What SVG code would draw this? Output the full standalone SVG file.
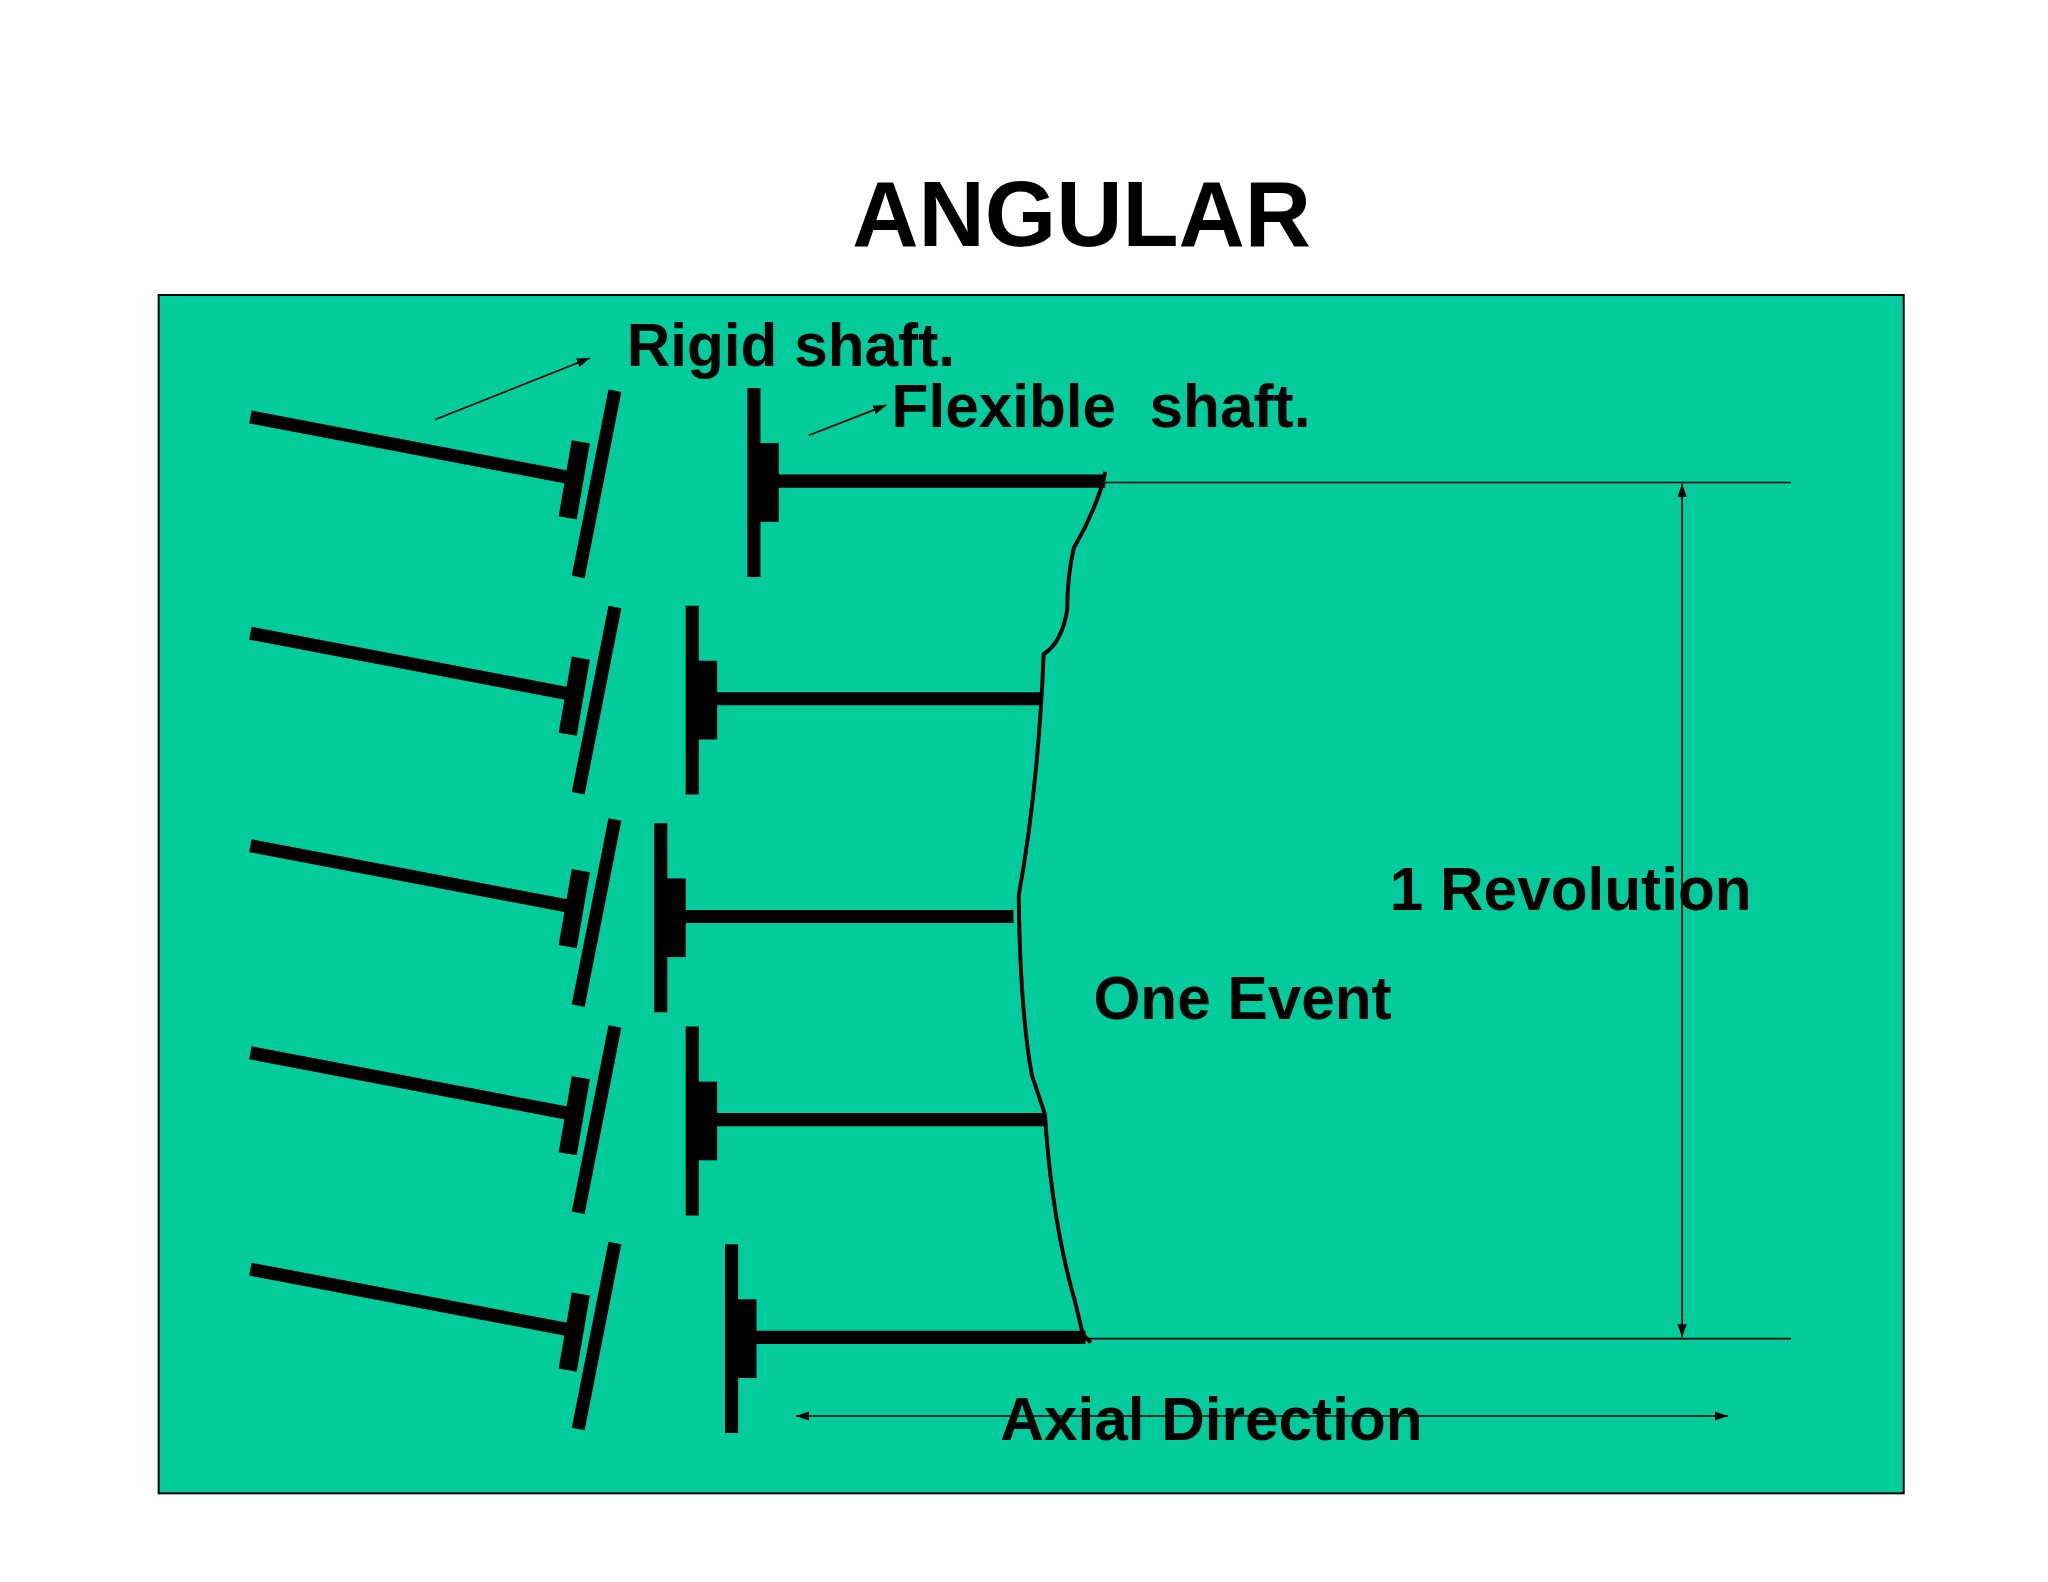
<svg xmlns="http://www.w3.org/2000/svg" width="2048" height="1582" viewBox="0 0 2048 1582">
<defs>
<style>
.t{font-family:"Liberation Sans",Arial,sans-serif;font-weight:bold;fill:#000}
.thick{stroke:#000;stroke-width:10;fill:none}
.thin{stroke:#000;stroke-width:1.3;fill:none}
</style>
<marker id="ah" viewBox="0 0 10 10" refX="10" refY="5" markerWidth="10" markerHeight="10" markerUnits="userSpaceOnUse" orient="auto-start-reverse"><path d="M0,1.5 L10,5 L0,8.5 Z" fill="#000"/></marker>
<g id="rigid"><line x1="191" y1="0" x2="438" y2="47" class="thick"/><line x1="469" y1="-20" x2="441" y2="122" class="thick"/><line x1="443" y1="19" x2="433" y2="77" stroke="#000" stroke-width="14"/></g>
<g id="flex"><line x1="0" y1="-72" x2="0" y2="72" class="thick"/><rect x="0" y="-30" width="19" height="60" fill="#000"/></g>
</defs>
<rect width="2048" height="1582" fill="#fff"/>
<g transform="scale(1.3111)">
<text class="t" x="825" y="188" font-size="70" text-anchor="middle">ANGULAR</text>
<rect id="frame" x="121" y="225" width="1331" height="914" fill="#02CC9C" stroke="#000" stroke-width="1.5"/>
<g id="row1"><use href="#rigid" y="318"/><use href="#flex" x="575" y="368"/><line x1="575" y1="367" x2="843" y2="367" class="thick"/></g>
<g id="row2"><use href="#rigid" y="483"/><use href="#flex" x="528" y="534"/><line x1="528" y1="533" x2="794" y2="533" class="thick"/></g>
<g id="row3"><use href="#rigid" y="645"/><use href="#flex" x="504" y="700"/><line x1="504" y1="699" x2="773" y2="699" class="thick"/></g>
<g id="row4"><use href="#rigid" y="803"/><use href="#flex" x="528" y="855"/><line x1="528" y1="854" x2="797" y2="854" class="thick"/></g>
<g id="row5"><use href="#rigid" y="968"/><use href="#flex" x="558" y="1021"/><line x1="558" y1="1020" x2="828" y2="1020" class="thick"/></g>
<g id="connectors">
<path d="M843,360 L840,372 Q832,396 819,418 Q814,440 814,465 Q810,490 796,499 Q792,600 777,683 Q778,770 787,820 L797,850 Q802,930 820,993 L826,1018 L832,1024" stroke="#000" stroke-width="3" fill="none"/>
<line x1="843" y1="368" x2="1366" y2="368" class="thin"/>
<line x1="828" y1="1021" x2="1366" y2="1021" class="thin"/>
<line x1="1283" y1="369" x2="1283" y2="1020" class="thin" marker-start="url(#ah)" marker-end="url(#ah)"/>
<line x1="607" y1="1080" x2="1318" y2="1080" class="thin" marker-start="url(#ah)" marker-end="url(#ah)"/>
<line x1="332" y1="320" x2="450" y2="273" class="thin" marker-end="url(#ah)"/>
<line x1="617" y1="332" x2="676" y2="309" class="thin" marker-end="url(#ah)"/>
</g>
<text class="t" x="478" y="279" font-size="46">Rigid shaft.</text>
<text class="t" x="680" y="326" font-size="46" xml:space="preserve">Flexible  shaft.</text>
<text class="t" x="1060" y="694" font-size="46">1 Revolution</text>
<text class="t" x="834" y="777" font-size="46">One Event</text>
<text class="t" x="763" y="1098" font-size="46">Axial Direction</text>
</g>
</svg>
